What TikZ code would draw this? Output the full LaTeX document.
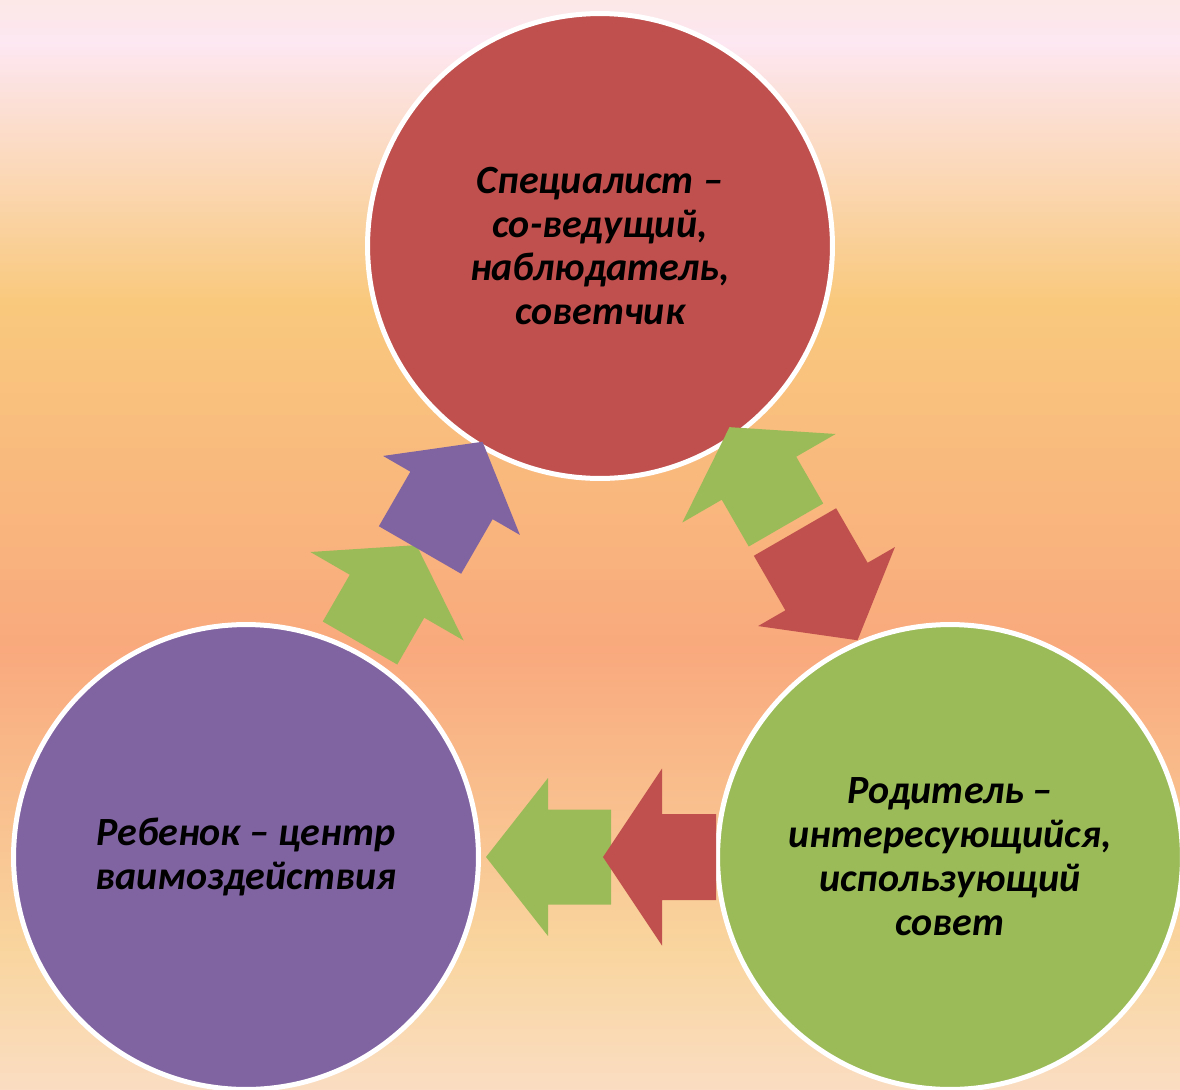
\documentclass[tikz,border=0pt]{standalone}
\usepackage{fontspec}
\setmainfont{Carlito}
\usepackage{tikz}

\definecolor{circred}{HTML}{C0504D}
\definecolor{circpurple}{HTML}{8064A2}
\definecolor{circgreen}{HTML}{9BBB59}
\definecolor{bgA}{HTML}{FCE8E6}
\definecolor{bgB}{HTML}{FDE7F2}
\definecolor{bgC}{HTML}{F9C97D}
\definecolor{bgD}{HTML}{F9A97D}
\definecolor{bgE}{HTML}{F9D59E}
\definecolor{bgF}{HTML}{FADDC2}

\begin{document}
\begin{tikzpicture}[
        x=0.02cm, y=-0.02cm,
        every node/.style={font=\fontsize{22.8}{25}\selectfont\bfseries\itshape, align=center},
        bubble/.style={circle, draw=white, line width=0.1cm, minimum size=9.3cm, inner sep=0pt},
        longarrow/.pic={\path[pic actions] (0,-47.5) -- (63,-47.5) -- (63,-79) -- (125,0) -- (63,79) -- (63,47.5) -- (0,47.5) -- cycle;},
        shortarrow/.pic={\path[pic actions] (0,-43) -- (54,-43) -- (54,-88.5) -- (113,0) -- (54,88.5) -- (54,43) -- (0,43) -- cycle;}
        ]

        \useasboundingbox (0,0) rectangle (1180,1089);
        \foreach \ya/\yb/\ca/\cb in {0/43/bgA/bgB, 43/300/bgB/bgC, 300/650/bgC/bgD, 650/950/bgD/bgE, 950/1089/bgE/bgF}
            \shade[top color=\ca, bottom color=\cb] (0,\ya-1) rectangle (1180,\yb+1);

        \node[bubble, fill=circred] (spec) at (600,246) {Специалист –\\со-ведущий,\\наблюдатель,\\советчик};
        \node[bubble, fill=circpurple] (child) at (246,857) {Ребенок – центр\\ваимоздействия};
        \node[bubble, fill=circgreen] (parent) at (950,857) {Родитель –\\интересующийся,\\использующий\\совет};

        \pic[fill=circgreen, rotate=60] at (360,643) {shortarrow};
        \pic[fill=circpurple, rotate=60] at (420,550) {longarrow};

        \pic[fill=circgreen, rotate=120] at (786,525) {shortarrow};
        \pic[fill=circred, rotate=-60] at (795,532) {longarrow};

        \pic[fill=circgreen, rotate=180] at (611,857) {longarrow};
        \pic[fill=circred, rotate=180] at (716,857) {shortarrow};
    \end{tikzpicture}
\end{document}
